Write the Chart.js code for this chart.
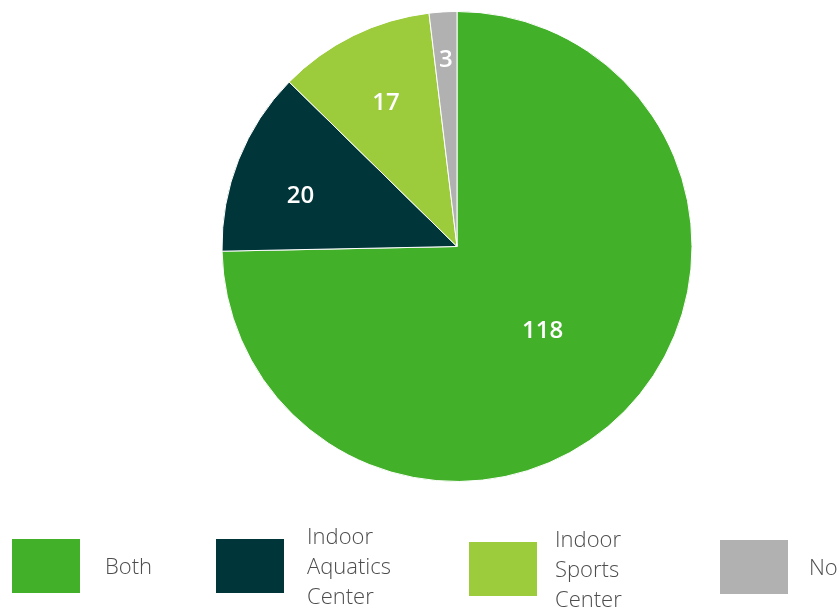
<!DOCTYPE html>
<html>
<head>
<meta charset="utf-8">
<script src="https://cdn.jsdelivr.net/npm/chart.js@4/dist/chart.umd.min.js"></script>
<style>
  html, body { margin: 0; padding: 0; background: #fff; }
  #wrap { width: 839px; height: 611px; position: relative; }
</style>
</head>
<body>
<div id="wrap"><canvas id="myChart"></canvas></div>
<script>
var categories = ["Both", "Indoor Aquatics Center", "Indoor Sports Center", "No"];
var legendLines = [["Both"], ["Indoor", "Aquatics", "Center"], ["Indoor", "Sports", "Center"], ["No"]];
var counts = [118, 20, 17, 3];
var sliceColors = ["#43b02a", "#003539", "#9ccb3b", "#b1b1b1"];

// label placement: share of the radius, and a small angle nudge in degrees
var labelRadius = [0.51, 0.70, 0.685, 0.80];
var labelNudge = [0, -3.6, 0, 0];
// legend columns: box left edge, text left edge, vertical centre
var legendBoxX = [12, 216, 469, 720];
var legendTextX = [105, 307, 555, 809];
var legendY = [566, 566, 569, 567];

const sliceLabels = {
  id: 'sliceLabels',
  afterDatasetsDraw(chart) {
    const ctx = chart.ctx;
    const meta = chart.getDatasetMeta(0);
    ctx.save();
    ctx.fillStyle = '#fff';
    ctx.font = '600 24px "Open Sans"';
    ctx.textAlign = 'center';
    ctx.textBaseline = 'middle';
    meta.data.forEach(function (arc, i) {
      const p = arc.getProps(['x', 'y', 'startAngle', 'endAngle', 'outerRadius'], true);
      const mid = (p.startAngle + p.endAngle) / 2 + labelNudge[i] * Math.PI / 180;
      const r = p.outerRadius * labelRadius[i];
      ctx.fillText(String(counts[i]), p.x + Math.cos(mid) * r, p.y + Math.sin(mid) * r + 1);
    });
    ctx.restore();
  }
};

const boxLegend = {
  id: 'boxLegend',
  afterDraw(chart) {
    const ctx = chart.ctx;
    ctx.save();
    ctx.font = '300 22px "Open Sans"';
    ctx.textBaseline = 'middle';
    ctx.textAlign = 'left';
    categories.forEach(function (name, i) {
      const cy = legendY[i];
      ctx.fillStyle = sliceColors[i];
      ctx.fillRect(legendBoxX[i], cy - 27, 68, 54);
      ctx.fillStyle = '#4d4d4d';
      const lines = legendLines[i];
      const lh = 30;
      const top = cy - (lines.length - 1) * lh / 2;
      lines.forEach(function (t, j) {
        ctx.fillText(t, legendTextX[i], top + j * lh + 2);
      });
    });
    ctx.restore();
  }
};

const ctx = document.getElementById('myChart').getContext('2d');
let myChart = new Chart(ctx, {
  type: 'pie',
  data: {
    labels: categories,
    datasets: [{
      data: counts,
      backgroundColor: sliceColors,
      borderColor: '#fff',
      borderWidth: 1
    }]
  },
  options: {
    responsive: true,
    maintainAspectRatio: false,
    animation: false,
    layout: {
      padding: { top: 11, bottom: 129, left: 75, right: 0 }
    },
    plugins: {
      legend: { display: false },
      tooltip: { enabled: false }
    }
  },
  plugins: [sliceLabels, boxLegend]
});
</script>
</body>
</html>
